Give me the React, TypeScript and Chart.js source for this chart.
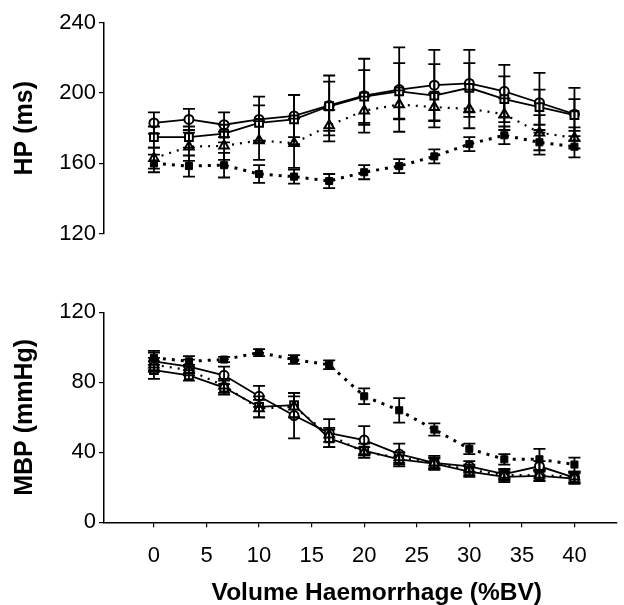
import React, { useEffect, useRef } from 'react';
import { Chart, registerables } from 'chart.js';

Chart.register(...registerables);

// ---- data ----
const volume = [0, 3.33, 6.67, 10, 13.33, 16.67, 20, 23.33, 26.67, 30, 33.33, 36.67, 40];

// HP (ms)
const hpCircle = [183, 185, 182, 185, 187, 193, 198.5, 202, 204.5, 205.5, 201, 194.5, 188];
const hpCircleErr = [6, 6, 7, 13, 12, 17, 21, 24, 20, 19, 15, 17, 15];
const hpSquare = [175, 175, 177, 183, 185, 192.5, 198, 201, 198.5, 203, 196.5, 192, 187.5];
const hpSquareErr = [6, 6, 5, 10, 14, 14, 15, 16, 18, 14, 13, 10, 9];
const hpTriangle = [163, 169.5, 170, 173, 171.5, 181.5, 190, 193.5, 192, 191, 188, 177.5, 174.5];
const hpTriangleErr = [6, 8, 8, 11, 14, 9, 8, 8, 8, 11, 9, 10, 6];
const hpFilled = [160, 158.5, 159, 154, 152.5, 150, 155, 158.5, 164, 171, 176, 172, 169.5];
const hpFilledErr = [5, 6, 7, 5, 4, 4, 4, 4, 4, 4, 5, 7, 6];

// MBP (mmHg)
const mbpCircle = [92, 89, 84, 72, 61, 51, 47, 39, 34, 32, 27.5, 32, 25.5];
const mbpCircleErr = [5, 4, 5, 6, 13, 8, 8, 6, 4, 3, 3, 3, 3];
const mbpSquare = [87, 84, 77, 66, 67, 48, 41, 36, 33.5, 29, 26, 26.5, 25];
const mbpSquareErr = [5, 3, 4, 6, 7, 5, 4, 4, 3, 3, 3, 3, 3];
const mbpTriangle = [90, 87, 78, 65, 66, 50, 40, 37, 34, 30, 27, 27, 26];
const mbpTriangleErr = [4, 3, 4, 5, 6, 4, 3, 3, 3, 3, 3, 3, 3];
const mbpFilled = [94, 92, 93, 97, 93, 90, 72, 64, 53, 42, 36, 36, 33];
const mbpFilledErr = [4, 3, 1.5, 2, 2.5, 2.5, 4.5, 7, 3.5, 3, 3, 6, 4];

const hpTicks = [120, 160, 200, 240];
const mbpTicks = [0, 40, 80, 120];
const volumeTicks = [0, 5, 10, 15, 20, 25, 30, 35, 40];

const TICK_FONT = { family: "'Liberation Sans', Arial, sans-serif", size: 22 };
const TITLE_FONT = { family: "'Liberation Sans', Arial, sans-serif", size: 25, weight: 'bold' as const };

function makeDatasets(
  circle: number[], circleErr: number[],
  square: number[], squareErr: number[],
  tri: number[], triErr: number[],
  filled: number[], filledErr: number[]
) {
  const pts = (arr: number[]) => arr.map((v, i) => ({ x: volume[i], y: v }));
  return [
    {
      data: pts(filled), errors: filledErr,
      borderColor: '#000', borderWidth: 3, borderDash: [3, 6],
      pointStyle: 'rect', pointRadius: 5, pointBackgroundColor: '#000', pointBorderColor: '#000', pointBorderWidth: 1,
    },
    {
      data: pts(tri), errors: triErr,
      borderColor: '#000', borderWidth: 2.2, borderDash: [2, 6],
      pointStyle: 'triangle', pointRadius: 5.5, pointBackgroundColor: '#fff', pointBorderColor: '#000', pointBorderWidth: 2,
    },
    {
      data: pts(square), errors: squareErr,
      borderColor: '#000', borderWidth: 1.8,
      pointStyle: 'rect', pointRadius: 5.5, pointBackgroundColor: '#fff', pointBorderColor: '#000', pointBorderWidth: 2,
    },
    {
      data: pts(circle), errors: circleErr,
      borderColor: '#000', borderWidth: 1.8,
      pointStyle: 'circle', pointRadius: 4.5, pointBackgroundColor: '#fff', pointBorderColor: '#000', pointBorderWidth: 2,
    },
  ];
}

const errorBarPlugin = {
  id: 'errorBars',
  afterDatasetsDraw(chart: any) {
    const { ctx } = chart;
    const xs = chart.scales.x;
    const ys = chart.scales.y;
    ctx.save();
    ctx.strokeStyle = '#000';
    ctx.lineWidth = 1.8;
    ctx.setLineDash([]);
    chart.data.datasets.forEach((ds: any) => {
      if (!ds.errors) return;
      ds.data.forEach((p: any, i: number) => {
        const e = ds.errors[i];
        const x = xs.getPixelForValue(p.x);
        const yt = ys.getPixelForValue(p.y + e);
        const yb = ys.getPixelForValue(p.y - e);
        const cap = 6;
        ctx.beginPath();
        ctx.moveTo(x, yt); ctx.lineTo(x, yb);
        ctx.moveTo(x - cap, yt); ctx.lineTo(x + cap, yt);
        ctx.moveTo(x - cap, yb); ctx.lineTo(x + cap, yb);
        ctx.stroke();
      });
    });
    ctx.restore();
  },
};

const xTitlePlugin = {
  id: 'xTitle',
  afterDraw(chart: any, _args: any, opts: any) {
    if (!opts || !opts.text) return;
    const { ctx } = chart;
    const xs = chart.scales.x;
    ctx.save();
    ctx.fillStyle = '#000';
    ctx.font = "bold 24.5px 'Liberation Sans', Arial, sans-serif";
    ctx.textAlign = 'center';
    ctx.textBaseline = 'alphabetic';
    ctx.fillText(opts.text, xs.getPixelForValue(21.2), chart.height - 5);
    ctx.restore();
  },
};

function yAxis(min: number, max: number, ticks: number[], title: string) {
  return {
    type: 'linear' as const,
    min, max,
    afterBuildTicks: (s: any) => { s.ticks = ticks.map((v) => ({ value: v })); },
    afterFit: (s: any) => { s.width = 104; },
    ticks: { color: '#000', font: TICK_FONT, padding: 3 },
    grid: { drawOnChartArea: false, drawTicks: true, tickLength: 5, color: '#000', lineWidth: 1.2 },
    border: { display: true, color: '#000', width: 1.5 },
    title: { display: true, text: title, color: '#000', font: TITLE_FONT, padding: { top: 10, bottom: 0 } },
  };
}

function xAxis(show: boolean) {
  return {
    type: 'linear' as const,
    min: -4.75, max: 44,
    display: show,
    afterBuildTicks: (s: any) => { s.ticks = volumeTicks.map((v) => ({ value: v })); },
    afterFit: (s: any) => { s.height = show ? 82.7 : 0; },
    ticks: { color: '#000', font: TICK_FONT, padding: 15 },
    grid: { drawOnChartArea: false, drawTicks: true, tickLength: 5, color: '#000', lineWidth: 1.2 },
    border: { display: true, color: '#000', width: 1.5 },
  };
}

function Panel(props: { top: number; height: number; kind: 'hp' | 'mbp' }) {
  const ref = useRef<HTMLCanvasElement>(null);
  useEffect(() => {
    if (!ref.current) return;
    const isHp = props.kind === 'hp';
    const datasets = isHp
      ? makeDatasets(hpCircle, hpCircleErr, hpSquare, hpSquareErr, hpTriangle, hpTriangleErr, hpFilled, hpFilledErr)
      : makeDatasets(mbpCircle, mbpCircleErr, mbpSquare, mbpSquareErr, mbpTriangle, mbpTriangleErr, mbpFilled, mbpFilledErr);
    const chart = new Chart(ref.current, {
      type: 'line',
      data: { datasets: datasets as any },
      options: {
        responsive: false,
        animation: false,
        devicePixelRatio: 1,
        layout: isHp
          ? { padding: { top: 22.7, bottom: 15, left: 0, right: 0 } }
          : { padding: { top: 22.3, bottom: 0, left: 0, right: 0 } },
        elements: { line: { tension: 0 } },
        scales: {
          x: xAxis(!isHp) as any,
          y: (isHp ? yAxis(120, 240, hpTicks, 'HP (ms)') : yAxis(0, 120, mbpTicks, 'MBP (mmHg)')) as any,
        },
        plugins: {
          legend: { display: false },
          tooltip: { enabled: false },
          xTitle: { text: isHp ? '' : 'Volume Haemorrhage (%BV)' },
        } as any,
      },
      plugins: [errorBarPlugin, xTitlePlugin],
    });
    return () => chart.destroy();
  }, []);
  return (
    <canvas
      ref={ref}
      width={624}
      height={props.height}
      style={{ position: 'absolute', left: 0, top: props.top, width: 624, height: props.height }}
    />
  );
}

export default function App() {
  return (
    <div style={{ position: 'fixed', left: 0, top: 0, width: 624, height: 605, background: '#fff', overflow: 'hidden' }}>
      <Panel top={0} height={250} kind="hp" />
      <Panel top={290} height={315} kind="mbp" />
    </div>
  );
}
